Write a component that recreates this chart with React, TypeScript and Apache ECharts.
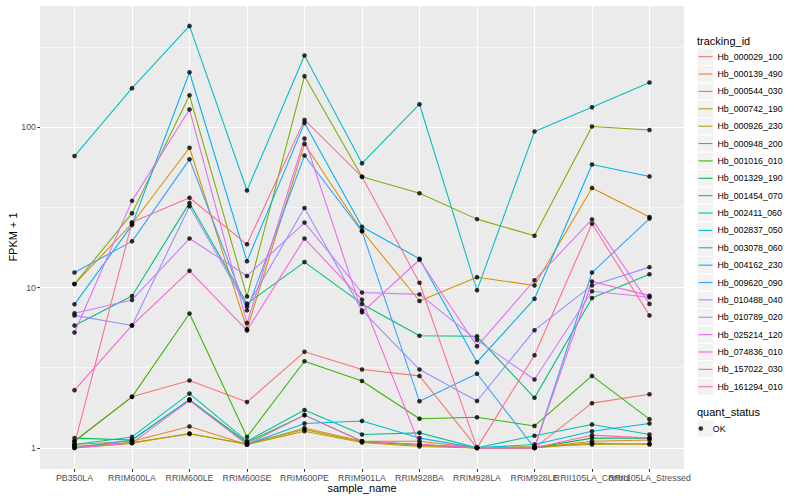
import React, { useEffect, useRef } from 'react';
import * as echarts from 'echarts';

const categories = [
  'PB350LA', 'RRIM600LA', 'RRIM600LE', 'RRIM600SE', 'RRIM600PE', 'RRIM901LA',
  'RRIM928BA', 'RRIM928LA', 'RRIM928LE', 'RRII105LA_Control', 'RRII105LA_Stressed',
];

const trackingIds = [
  'Hb_000029_100', 'Hb_000139_490', 'Hb_000544_030', 'Hb_000742_190', 'Hb_000926_230',
  'Hb_000948_200', 'Hb_001016_010', 'Hb_001329_190', 'Hb_001454_070', 'Hb_002411_060',
  'Hb_002837_050', 'Hb_003078_060', 'Hb_004162_230', 'Hb_009620_090', 'Hb_010488_040',
  'Hb_010789_020', 'Hb_025214_120', 'Hb_074836_010', 'Hb_157022_030', 'Hb_161294_010',
];

const palette = [
  '#F8766D', '#EA8331', '#D89000', '#C09B00', '#A3A500', '#7CAE00', '#39B600', '#00BB4E',
  '#00BF7D', '#00C1A3', '#00BFC4', '#00BAE0', '#00B0F6', '#35A2FF', '#9590FF', '#C77CFF',
  '#E76BF3', '#FA62DB', '#FF62BC', '#FF6C91',
];

// FPKM + 1 per sample (order of categories)
const s000029_100 = [1.1, 2.08, 2.63, 1.93, 3.97, 3.08, 2.81, 1.0, 1.0, 1.9, 2.16];
const s000139_490 = [1.05, 1.1, 1.36, 1.05, 1.33, 1.1, 1.1, 1.0, 1.0, 1.1, 1.12];
const s000544_030 = [10.5, 25, 74.4, 5.5, 78.6, 22.6, 8.24, 11.6, 10.3, 41.8, 27.5];
const s000742_190 = [1.0, 1.07, 1.23, 1.05, 1.27, 1.08, 1.02, 1.0, 1.0, 1.07, 1.05];
const s000926_230 = [1.02, 1.08, 1.22, 1.06, 1.3, 1.09, 1.04, 1.0, 1.02, 1.05, 1.06];
const s000948_200 = [10.5, 29, 158, 8.8, 208, 49, 38.7, 26.7, 21, 101, 96];
const s001016_010 = [1.1, 2.08, 6.88, 1.17, 3.47, 2.61, 1.52, 1.55, 1.37, 2.81, 1.51];
const s001329_190 = [1.15, 1.12, 2.0, 1.08, 1.6, 1.1, 1.05, 1.0, 1.0, 1.15, 1.15];
const s001454_070 = [5.79, 8.85, 33.7, 7.93, 14.4, 7.9, 5.0, 4.96, 2.05, 8.6, 12.1];
const s002411_060 = [1.05, 1.17, 2.18, 1.1, 1.72, 1.21, 1.24, 1.0, 1.19, 1.4, 1.21];
const s002837_050 = [66, 175, 428, 40.3, 280, 59.5, 139, 9.6, 94, 133, 190];
const s003078_060 = [1.0, 1.12, 2.0, 1.05, 1.42, 1.47, 1.15, 1.0, 1.05, 1.27, 1.42];
const s004162_230 = [7.85, 24.5, 220, 14.6, 106, 23.9, 15.1, 3.42, 8.5, 58.5, 49.3];
const s009620_090 = [12.4, 19.4, 63, 7.2, 66.6, 22.4, 1.95, 2.9, 1.0, 12.4, 26.9];
const s010488_040 = [6.7, 5.8, 32.1, 7.6, 31.3, 7.2, 3.08, 1.96, 5.42, 10.3, 13.4];
const s010789_020 = [6.9, 8.36, 20.2, 11.8, 25.4, 9.3, 9.06, 4.7, 2.67, 9.47, 8.7];
const s025214_120 = [5.24, 34.7, 129, 6.0, 85, 7.0, 14.9, 4.3, 11.1, 26.6, 7.9];
const s074836_010 = [2.29, 5.8, 12.7, 5.4, 20.2, 8.4, 1.05, 1.0, 1.0, 10.9, 8.9];
const s157022_030 = [1.0, 1.07, 1.97, 1.05, 1.6, 1.1, 1.05, 1.0, 1.0, 1.2, 1.15];
const s161294_010 = [1.05, 25.5, 36.3, 18.6, 111, 49, 10.7, 1.0, 3.78, 25.0, 6.7];

const seriesValues = [
  s000029_100, s000139_490, s000544_030, s000742_190, s000926_230,
  s000948_200, s001016_010, s001329_190, s001454_070, s002411_060,
  s002837_050, s003078_060, s004162_230, s009620_090, s010488_040,
  s010789_020, s025214_120, s074836_010, s157022_030, s161294_010,
];

const quantStatus = ['OK'];
const yMinorBreaks = [3.1623, 31.623, 316.23];

export default function App() {
  const ref = useRef<HTMLDivElement>(null);

  useEffect(() => {
    document.body.style.margin = '0';
    const chart = echarts.init(ref.current as HTMLDivElement, null, { renderer: 'svg' });
    const font = '"Liberation Sans", Arial, Helvetica, sans-serif';
    const catIdx = categories.map((_, i) => i);
    // the two long right-hand labels overlap in the reference; each sits on its own axis so both stay shown
    const oddOut = categories.length - 2;
    const mainLabelIdx = catIdx.filter((i) => i !== oddOut);

    const lineSeries: any[] = trackingIds.map((id, i) => ({
      type: 'line',
      name: id,
      data: seriesValues[i].map((v, j) => [j, v]),
      symbol: 'none',
      silent: true,
      z: 3,
      color: palette[i],
      lineStyle: { color: palette[i], width: 1.07 },
      itemStyle: { color: palette[i] },
    }));

    const points: number[][] = [];
    seriesValues.forEach((vals) => vals.forEach((v, j) => points.push([j, v])));

    const pointSeries = {
      type: 'scatter',
      name: quantStatus[0],
      data: points,
      symbol: 'circle',
      symbolSize: 4.6,
      z: 5,
      silent: true,
      itemStyle: { color: '#000000' },
    };

    const keyPitch = 17.37;
    const firstKeyCenter = 56.7;
    const keyRects: any[] = trackingIds.map((_, i) => ({
      type: 'rect',
      shape: { x: 697, y: firstKeyCenter - keyPitch / 2 + i * keyPitch, width: 16.8, height: keyPitch },
      style: { fill: '#F2F2F2', stroke: '#ffffff', lineWidth: 1 },
      z: 0,
    }));
    const okCenter = 428.5;

    const yRange = { type: 'log', logBase: 10, min: 0.738, max: 578 };
    const xRange = { type: 'value', min: -0.6, max: 10.6 };
    const labelStyle = { color: '#4D4D4D', fontSize: 8.8, margin: 4, fontFamily: font };

    chart.setOption({
      animation: false,
      backgroundColor: '#ffffff',
      textStyle: { fontFamily: font },
      grid: {
        left: 40, right: 116, top: 5, bottom: 31,
        containLabel: false,
        outerBoundsMode: 'none',
        show: true, backgroundColor: '#EBEBEB', borderWidth: 0,
      },
      xAxis: [
        {
          ...xRange,
          axisLine: { show: false, onZero: false },
          axisTick: { show: true, length: 2.75, lineStyle: { color: '#333333', width: 1.07 }, customValues: catIdx },
          axisLabel: {
            ...labelStyle,
            customValues: mainLabelIdx,
            formatter: (v: number) => categories[Math.round(v)],
            showMinLabel: true, showMaxLabel: true, hideOverlap: false,
          },
          splitLine: { show: true, lineStyle: { color: '#ffffff', width: 1.07 } },
          name: 'sample_name',
          nameLocation: 'middle',
          nameGap: 13.5,
          nameMoveOverlap: false,
          nameTextStyle: { fontSize: 11, color: '#000000', fontFamily: font },
        },
        {
          ...xRange,
          position: 'bottom',
          offset: 0,
          axisLine: { show: false, onZero: false },
          axisTick: { show: false, customValues: [oddOut] },
          axisLabel: {
            ...labelStyle,
            customValues: [oddOut],
            formatter: (v: number) => categories[Math.round(v)],
            showMinLabel: true, showMaxLabel: true,
          },
          splitLine: { show: false },
        },
      ],
      yAxis: [
        {
          ...yRange,
          position: 'left',
          axisLine: { show: false, onZero: false },
          axisTick: { show: true, length: 2.75, lineStyle: { color: '#333333', width: 1.07 } },
          axisLabel: {
            ...labelStyle,
            showMinLabel: false,
            showMaxLabel: false,
            formatter: (v: number) => String(Math.round(v)),
          },
          splitLine: { show: true, lineStyle: { color: '#ffffff', width: 1.07 } },
          name: 'FPKM + 1',
          nameLocation: 'middle',
          nameGap: 21.5,
          nameMoveOverlap: false,
          nameRotate: 90,
          nameTextStyle: { fontSize: 11, color: '#000000', fontFamily: font },
        },
        {
          ...yRange,
          position: 'left',
          axisLine: { show: false, onZero: false },
          axisTick: { show: false, customValues: yMinorBreaks },
          axisLabel: { show: false, customValues: yMinorBreaks },
          splitLine: { show: true, lineStyle: { color: '#ffffff', width: 0.55 } },
        },
      ],
      legend: [
        {
          orient: 'vertical',
          left: 698.5,
          top: firstKeyCenter - keyPitch / 2,
          padding: 0,
          itemGap: 0,
          itemWidth: 14,
          itemHeight: 1.1,
          icon: 'rect',
          selectedMode: false,
          textStyle: { fontSize: 8.8, color: '#000000', fontFamily: font, lineHeight: keyPitch },
          data: trackingIds.map((id, i) => ({ name: id, itemStyle: { color: palette[i] } })),
        },
        {
          orient: 'vertical',
          left: 698.5,
          top: okCenter - keyPitch / 2,
          padding: 0,
          itemGap: 0,
          itemWidth: 14,
          itemHeight: 4.6,
          icon: 'circle',
          selectedMode: false,
          textStyle: { fontSize: 8.8, color: '#000000', fontFamily: font, lineHeight: keyPitch },
          data: quantStatus.map((q) => ({ name: q, itemStyle: { color: '#000000' } })),
        },
      ],
      graphic: [
        ...keyRects,
        {
          type: 'rect',
          shape: { x: 697, y: okCenter - keyPitch / 2, width: 16.8, height: keyPitch },
          style: { fill: '#F2F2F2', stroke: '#ffffff', lineWidth: 1 },
          z: 0,
        },
        {
          type: 'text', x: 697, y: 40.7, z: 1,
          style: { text: 'tracking_id', fontSize: 11, fontFamily: font, fill: '#000000', verticalAlign: 'middle', align: 'left' },
        },
        {
          type: 'text', x: 697, y: 411.5, z: 1,
          style: { text: 'quant_status', fontSize: 11, fontFamily: font, fill: '#000000', verticalAlign: 'middle', align: 'left' },
        },
      ],
      series: [...lineSeries, pointSeries],
    });

    return () => chart.dispose();
  }, []);

  return <div ref={ref} style={{ width: 800, height: 500, position: 'absolute', left: 0, top: 0 }} />;
}
